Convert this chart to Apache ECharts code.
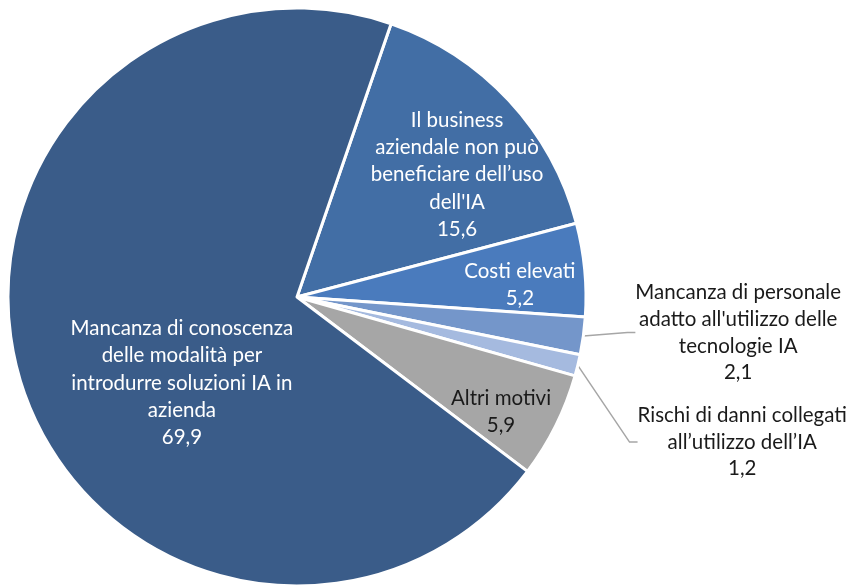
<!DOCTYPE html>
<html>
<head>
<meta charset="utf-8">
<script src="https://cdn.jsdelivr.net/npm/echarts@6/dist/echarts.min.js"></script>
<style>
  html, body { margin: 0; padding: 0; background: #ffffff; }
  #chart { width: 854px; height: 586px; }
</style>
</head>
<body>
<div id="chart"></div>
<script>
// Motivi per cui le imprese non adottano l'IA (valori percentuali)
const categories = [
  "Il business\naziendale non può\nbeneficiare dell’uso\ndell'IA",
  "Costi elevati",
  "Mancanza di personale\nadatto all'utilizzo delle\ntecnologie IA",
  "Rischi di danni collegati\nall’utilizzo dell’IA",
  "Altri motivi",
  "Mancanza di conoscenza\ndelle modalità per\nintrodurre soluzioni IA in\nazienda"
];
const values = [15.6, 5.2, 2.1, 1.2, 5.9, 69.9];

// Stile per fetta
const sliceColors = ['#426ea5', '#4a7bbd', '#7496ca', '#a5badf', '#a6a6a6', '#3a5c89'];
const labelColors = ['#ffffff', '#ffffff', '#1a1a1a', '#1a1a1a', '#1a1a1a', '#ffffff'];
const labelInside = [true, true, false, false, true, true];
// spostamento delle etichette rispetto alla posizione predefinita
const labelShift = [[52, -22], [76, 2], [127, -6], [137, 72], [72, 49], [26, 43]];

const fmt = v => v.toFixed(1).replace('.', ',');

const data = categories.map((name, i) => ({
  name: name,
  value: values[i],
  itemStyle: { color: sliceColors[i] },
  label: {
    position: labelInside[i] ? 'inside' : 'outside',
    color: labelColors[i],
    lineHeight: labelInside[i] ? 27.3 : 26.7
  },
  labelLine: { show: !labelInside[i] }
}));

const chart = echarts.init(document.getElementById('chart'), null, { renderer: 'canvas' });
chart.setOption({
  backgroundColor: '#ffffff',
  animation: false,
  series: [{
    type: 'pie',
    center: [297, 297],
    radius: [0, 289],
    startAngle: 71,
    clockwise: true,
    avoidLabelOverlap: false,
    itemStyle: { borderColor: '#ffffff', borderWidth: 3 },
    label: {
      show: true,
      fontFamily: 'Lato',
      fontSize: 20.5,
      align: 'center',
      formatter: p => p.name + '\n' + fmt(p.value)
    },
    labelLine: {
      length: 20,
      length2: 8,
      lineStyle: { color: '#a6a6a6', width: 1.5 }
    },
    labelLayout: function (params) {
      const i = params.dataIndex;
      const s = labelShift[i];
      if (labelInside[i] || !params.labelLinePoints) {
        return { dx: s[0], dy: s[1], align: 'center', verticalAlign: 'middle' };
      }
      // etichette esterne: ancorate al termine della linea guida
      const end = params.labelLinePoints[2];
      return { x: end[0] + s[0], y: end[1] + s[1], align: 'center', verticalAlign: 'middle' };
    },
    emphasis: { disabled: true },
    data: data
  }]
});
</script>
</body>
</html>
